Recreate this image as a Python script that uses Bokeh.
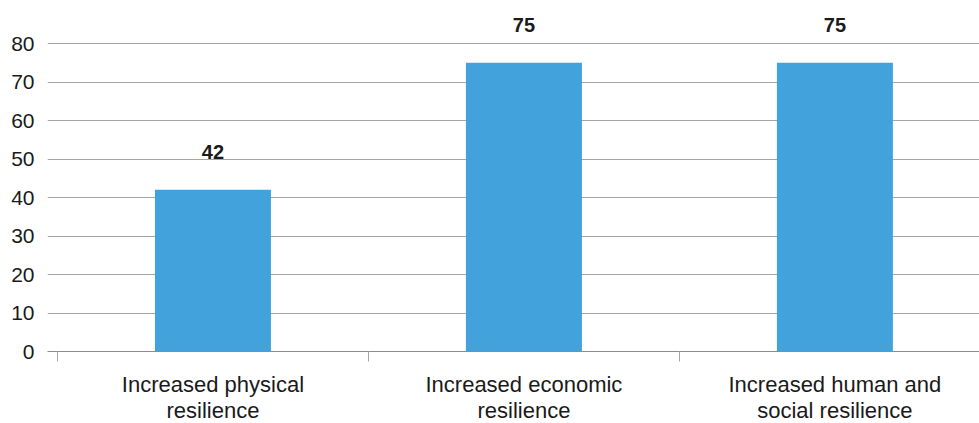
from bokeh.plotting import figure
from bokeh.models import Range1d, FixedTicker, ColumnDataSource
from bokeh.embed import file_html
from bokeh.resources import INLINE
from bokeh.core.properties import value

categories = ["Increased physical\nresilience", "Increased economic\nresilience", "Increased human and\nsocial resilience"]
values = [42, 75, 75]
y_ticks = [0, 10, 20, 30, 40, 50, 60, 70, 80]

xs = [i + 0.5 for i in range(len(categories))]
src = ColumnDataSource(dict(x=xs, top=values, label=[str(v) for v in values]))

FONT = "Liberation Sans"
p = figure(frame_width=932, frame_height=343, output_backend="svg", toolbar_location=None,
           x_range=Range1d(-0.032, 2.965), y_range=Range1d(0, 89.1),
           min_border_left=47, min_border_right=0, min_border_top=8, min_border_bottom=72)
p.outline_line_color = None
p.background_fill_color = "white"

p.vbar(x="x", top="top", width=0.373, source=src, color="#41A2DC", line_color=None)
p.text(x="x", y="top", text="label", source=src, text_align="center", text_baseline="alphabetic",
       y_offset=-38, text_font=value(FONT), text_font_style="bold", text_font_size="20px",
       text_color="#1a1a1a")

p.xgrid.grid_line_color = None
p.ygrid.grid_line_color = "#a6a6a6"
p.ygrid.grid_line_width = 1
p.ygrid.ticker = FixedTicker(ticks=y_ticks)

yax = p.yaxis[0]
yax.ticker = FixedTicker(ticks=y_ticks)
yax.axis_line_color = None
yax.major_tick_line_color = None
yax.minor_tick_line_color = None
yax.major_tick_out = 0
yax.major_tick_in = 0
yax.minor_tick_out = 0
yax.major_label_standoff = 13
yax.major_label_text_font = FONT
yax.major_label_text_font_size = "21px"
yax.major_label_text_color = "#1a1a1a"

xax = p.xaxis[0]
xax.ticker = FixedTicker(ticks=xs, minor_ticks=[0, 1, 2, 3])
xax.major_label_overrides = {x: c for x, c in zip(xs, categories)}
xax.axis_line_color = "#8c8c8c"
xax.major_tick_line_color = None
xax.major_tick_out = 0
xax.major_tick_in = 0
xax.minor_tick_line_color = "#a6a6a6"
xax.minor_tick_out = 10
xax.minor_tick_in = 0
xax.major_label_standoff = 10
xax.major_label_text_font = FONT
xax.major_label_text_font_size = "22px"
xax.major_label_text_color = "#1a1a1a"
xax.major_label_text_line_height = 1.05

open("out.html", "w").write(file_html(p, INLINE))
